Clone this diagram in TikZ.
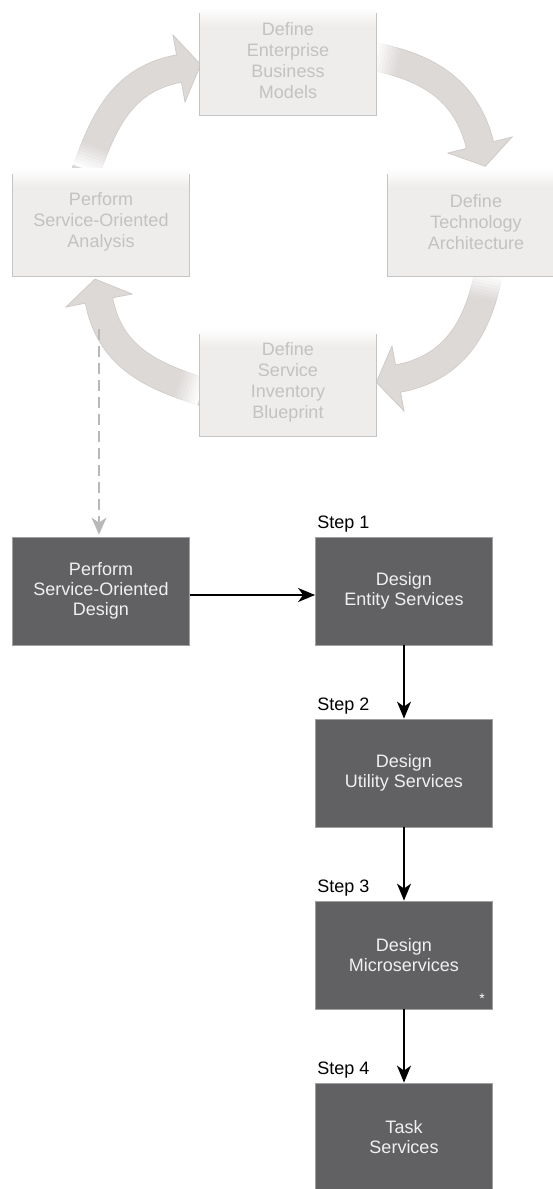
\documentclass[tikz,border=0pt]{standalone}
\usepackage{fontspec}
\setmainfont{Liberation Sans}
\usetikzlibrary{arrows.meta,calc}
\definecolor{bandc}{HTML}{DDD9D7}
\definecolor{bandedge}{HTML}{CFCBC9}
\definecolor{cycfill}{HTML}{EFEDEC}
\definecolor{cycborder}{HTML}{C4C4C4}
\definecolor{cyctext}{HTML}{C2C2C2}
\definecolor{darkfill}{HTML}{616163}
\definecolor{darkborder}{HTML}{A0A0A0}
\definecolor{dashc}{HTML}{B8B8B8}
\pgfdeclareverticalshading{cycshade}{100bp}{color(0bp)=(cycfill); color(25bp)=(cycfill); color(66bp)=(cycfill); color(75bp)=(white); color(100bp)=(white)}
\pgfdeclarelayer{bg}
\pgfsetlayers{bg,main}
\begin{document}
\begin{tikzpicture}[x=1pt,y=-1pt,
  cyc/.style={rectangle, minimum width=176pt, minimum height=108pt, inner sep=0pt,
    shade, shading=cycshade, text=cyctext, align=center, font=\fontsize{18}{21}\selectfont},
  dark/.style={rectangle, minimum width=177pt, minimum height=108pt, inner sep=0pt,
    fill=darkfill, draw=darkborder, line width=0.8pt, text=white!94!black,
    align=center, font=\fontsize{18}{20.3}\selectfont},
  steplabel/.style={anchor=base west, inner sep=0pt, font=\fontsize{18}{20}\selectfont},
  flow/.style={line width=1.5pt, -{Stealth[length=17pt,width=14pt,inset=5pt]}},
  dashflow/.style={dashc, line width=1.5pt, dash pattern=on 11pt off 6pt,
    -{Stealth[length=17pt,width=15pt,inset=5pt]}, shorten >=2pt},
  cycedge/.style={cycborder, line width=0.9pt},
  bandout/.style={bandedge, line width=28.6pt},
  bandin/.style={bandc, line width=27pt},
  headfill/.style={fill=bandc, draw=bandedge, line width=0.8pt, line join=miter},
  fadeline/.style={white, line width=3.3pt}
]
\useasboundingbox (0,0) rectangle (553,1189);
\clip (0,0) rectangle (553,1189);

% cycle boxes
\node[cyc] (tbm) at (288,61) {Define\\Enterprise\\Business\\Models};
\node[cyc] (lft) at (101,222) {Perform\\Service-Oriented\\Analysis};
\node[cyc] (rgt) at (476,222) {Define\\Technology\\Architecture};
\node[cyc] (bot) at (288,382) {Define\\Service\\Inventory\\Blueprint};
\foreach \n in {tbm,lft,rgt,bot}
  \draw[cycedge] ([yshift=-6pt]\n.north west) -- (\n.south west) -- (\n.south east) -- ([yshift=-6pt]\n.north east);

% design boxes
\node[dark] (sod) at (101,591) {Perform\\Service-Oriented\\Design};
\node[dark] (s1) at (404,591) {Design\\Entity Services};
\node[dark] (s2) at (404,773) {Design\\Utility Services};
\node[dark] (s3) at (404,955) {Design\\Microservices};
\node[dark] (s4) at (404,1137) {Task\\Services};
\node[text=white, inner sep=0pt, font=\fontsize{14}{14}\selectfont] (ast) at (482,999) {*};

\node[steplabel] (l1) at ($(s1.north west)+(2,-8)$) {Step 1};
\node[steplabel] (l2) at ($(s2.north west)+(2,-8)$) {Step 2};
\node[steplabel] (l3) at ($(s3.north west)+(2,-8)$) {Step 3};
\node[steplabel] (l4) at ($(s4.north west)+(2,-8)$) {Step 4};

% flow connectors
\draw[flow] ([yshift=-4pt]sod.east) -- ([yshift=-4pt]s1.west);
\draw[flow] (s1.south) -- (s2.north);
\draw[flow] (s2.south) -- (s3.north);
\draw[flow] (s3.south) -- (s4.north);

\coordinate (ds) at (99,329);
\draw[dashflow] (ds) -- (sod.north -| ds);

% cycle arrows (behind boxes)
\begin{pgfonlayer}{bg}
% arrow 1: analysis -> business models
\coordinate (a1s) at (87,168);
\coordinate (a1e) at (179,68.5);
\draw[bandout] (84.3,175.5) -- (a1s) .. controls (105.7,116.3) and (124.8,78.9) .. (a1e);
\draw[headfill] (173,35) -- (200.7,64.6) -- (185,102) -- cycle;
\draw[bandin] (84.3,175.5) -- (a1s) .. controls (105.7,116.3) and (124.8,78.9) .. (a1e) -- (181,68.1);
\foreach \k/\o in {0/0.92,3/0.8,6/0.68,9/0.56,12/0.44,15/0.32,18/0.2,21/0.1}
  \draw[fadeline, opacity=\o] ($(a1s)+\k*(0.34,-0.94)+(15.5*0.94,15.5*0.34)$) -- ($(a1s)+\k*(0.34,-0.94)-(15.5*0.94,15.5*0.34)$);

% arrow 2: business models -> technology architecture
\coordinate (a2s) at (376,57);
\coordinate (a2e) at (480,145);
\draw[bandout] (368.2,55.4) -- (a2s) .. controls (430,68) and (466.8,91.6) .. (a2e);
\draw[headfill] (448,153) -- (485.3,166.3) -- (512,137) -- cycle;
\draw[bandin] (368.2,55.4) -- (a2s) .. controls (430,68) and (466.8,91.6) .. (a2e) -- (480.5,146.9);
\foreach \k/\o in {0/0.92,3/0.8,6/0.68,9/0.56,12/0.44,15/0.32,18/0.2,21/0.1}
  \draw[fadeline, opacity=\o] ($(a2s)+\k*(0.98,0.2)+(-15.5*0.2,15.5*0.98)$) -- ($(a2s)+\k*(0.98,0.2)-(-15.5*0.2,15.5*0.98)$);

% arrow 3: technology architecture -> inventory blueprint
\coordinate (a3s) at (488,276);
\coordinate (a3e) at (398,378.5);
\draw[bandout] (489.6,268.2) -- (a3s) .. controls (477,330) and (452.2,368.7) .. (a3e);
\draw[headfill] (392,346) -- (376.3,382.2) -- (404,411) -- cycle;
\draw[bandin] (489.6,268.2) -- (a3s) .. controls (477,330) and (452.2,368.7) .. (a3e) -- (396,378.8);
\foreach \k/\o in {0/0.92,3/0.8,6/0.68,9/0.56,12/0.44,15/0.32,18/0.2,21/0.1}
  \draw[fadeline, opacity=\o] ($(a3s)+\k*(-0.2,0.98)+(-15.5*0.98,-15.5*0.2)$) -- ($(a3s)+\k*(-0.2,0.98)-(-15.5*0.98,-15.5*0.2)$);

% arrow 4: inventory blueprint -> analysis
\coordinate (a4s) at (200,391);
\coordinate (a4e) at (99,300.5);
\draw[bandout] (207.6,393.4) -- (a4s) .. controls (147.5,374.5) and (109.5,354.5) .. (a4e);
\draw[headfill] (132,294) -- (95,279) -- (66,307) -- cycle;
\draw[bandin] (207.6,393.4) -- (a4s) .. controls (147.5,374.5) and (109.5,354.5) .. (a4e) -- (98.6,298.5);
\foreach \k/\o in {0/0.92,3/0.8,6/0.68,9/0.56,12/0.44,15/0.32,18/0.2,21/0.1}
  \draw[fadeline, opacity=\o] ($(a4s)+\k*(-0.955,-0.3)+(15.5*0.3,-15.5*0.955)$) -- ($(a4s)+\k*(-0.955,-0.3)-(15.5*0.3,-15.5*0.955)$);
\end{pgfonlayer}
\end{tikzpicture}
\end{document}
